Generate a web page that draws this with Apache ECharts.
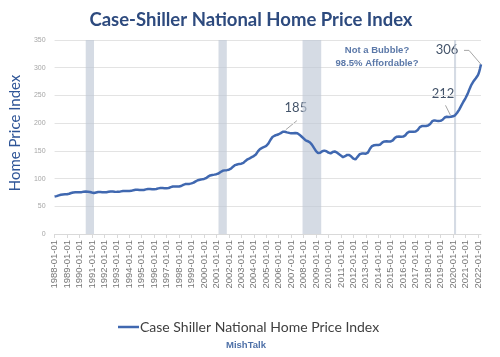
<!DOCTYPE html>
<html>
<head>
<meta charset="utf-8">
<script src="https://cdn.jsdelivr.net/npm/echarts@6/dist/echarts.min.js"></script>
<style>
html,body{margin:0;padding:0;background:#fff;}
#chart{width:500px;height:357px;}
</style>
</head>
<body>
<div id="chart"></div>
<script>
// Monthly Case-Shiller National Home Price Index, 1988-01 .. 2022-04
const hpi = [
  /*1988*/ 67.5, 67.8, 68.3, 68.9, 69.6, 70.2, 70.7, 71.1, 71.4, 71.6, 71.7, 71.8,
  /*1989*/ 71.9, 72.1, 72.6, 73.3, 74.0, 74.6, 75.0, 75.2, 75.3, 75.3, 75.2, 75.2,
  /*1990*/ 75.2, 75.2, 75.5, 75.9, 76.3, 76.6, 76.7, 76.6, 76.4, 76.1, 75.8, 75.6,
  /*1991*/ 74.8, 74.2, 73.9, 74.3, 74.9, 75.4, 75.7, 75.8, 75.7, 75.6, 75.5, 75.4,
  /*1992*/ 75.3, 75.2, 75.3, 75.7, 76.1, 76.5, 76.7, 76.7, 76.6, 76.4, 76.2, 76.1,
  /*1993*/ 76.0, 75.9, 76.0, 76.4, 76.9, 77.4, 77.7, 77.8, 77.8, 77.7, 77.6, 77.6,
  /*1994*/ 77.6, 77.6, 77.9, 78.5, 79.1, 79.6, 79.9, 80.0, 79.9, 79.7, 79.5, 79.4,
  /*1995*/ 79.3, 79.2, 79.4, 79.9, 80.5, 81.0, 81.3, 81.4, 81.3, 81.1, 80.9, 80.8,
  /*1996*/ 80.8, 80.8, 81.1, 81.7, 82.3, 82.8, 83.0, 83.0, 82.9, 82.7, 82.6, 82.6,
  /*1997*/ 82.6, 82.6, 83.0, 83.7, 84.5, 85.2, 85.6, 85.8, 85.8, 85.7, 85.6, 85.7,
  /*1998*/ 85.8, 86.0, 86.6, 87.6, 88.6, 89.4, 90.0, 90.3, 90.4, 90.4, 90.4, 90.6,
  /*1999*/ 91.3, 91.7, 92.6, 93.8, 95.0, 96.1, 97.0, 97.6, 98.0, 98.3, 98.6, 99.0,
  /*2000*/ 99.3, 99.8, 100.8, 102.2, 103.6, 104.8, 105.7, 106.2, 106.5, 106.8, 107.1, 107.5,
  /*2001*/ 107.9, 108.3, 109.2, 110.5, 111.9, 113.1, 114.0, 114.5, 114.8, 115.0, 115.2, 115.6,
  /*2002*/ 116.0, 116.6, 117.8, 119.6, 121.5, 123.1, 124.3, 125.0, 125.5, 126.0, 126.5, 127.1,
  /*2003*/ 126.8, 127.3, 128.4, 130.0, 131.8, 133.4, 134.7, 135.7, 136.6, 137.6, 138.6, 139.7,
  /*2004*/ 140.6, 141.6, 143.5, 146.2, 149.0, 151.5, 153.3, 154.5, 155.3, 156.1, 157.0, 158.1,
  /*2005*/ 159.1, 160.5, 162.9, 166.2, 169.6, 172.6, 174.9, 176.3, 177.2, 178.0, 178.7, 179.4,
  /*2006*/ 180.0, 180.7, 182.0, 183.5, 184.4, 184.6, 184.5, 184.0, 183.4, 182.9, 182.5, 182.1,
  /*2007*/ 181.6, 181.4, 181.6, 182.0, 182.3, 182.2, 181.7, 180.6, 179.2, 177.6, 175.9, 174.3,
  /*2008*/ 172.4, 170.3, 168.8, 168.0, 167.4, 166.6, 165.5, 163.7, 161.3, 158.4, 155.3, 152.4,
  /*2009*/ 149.6, 147.3, 146.0, 145.9, 146.7, 148.0, 149.4, 150.3, 150.5, 150.2, 149.4, 148.4,
  /*2010*/ 146.8, 145.5, 145.5, 146.6, 147.8, 148.6, 148.8, 148.3, 147.2, 145.8, 144.3, 142.9,
  /*2011*/ 141.4, 139.6, 138.6, 139.0, 140.3, 141.8, 142.7, 143.0, 142.5, 141.3, 139.8, 138.4,
  /*2012*/ 136.0, 134.3, 134.5, 136.5, 139.2, 141.9, 143.8, 144.8, 145.1, 145.2, 145.1, 145.2,
  /*2013*/ 145.0, 145.2, 146.9, 150.3, 153.8, 156.7, 158.6, 159.6, 160.1, 160.4, 160.5, 160.6,
  /*2014*/ 160.4, 160.5, 161.5, 163.4, 165.2, 166.4, 167.1, 167.3, 167.3, 167.2, 167.0, 167.0,
  /*2015*/ 167.0, 167.4, 169.0, 171.4, 173.5, 174.8, 175.5, 175.7, 175.7, 175.7, 175.6, 175.7,
  /*2016*/ 175.8, 176.3, 178.0, 180.5, 182.6, 183.9, 184.5, 184.6, 184.5, 184.5, 184.5, 184.7,
  /*2017*/ 185.0, 185.7, 187.7, 190.5, 192.8, 194.2, 194.8, 194.9, 194.8, 194.8, 194.9, 195.2,
  /*2018*/ 195.6, 196.5, 198.6, 201.3, 203.5, 204.7, 205.0, 204.8, 204.4, 204.1, 203.9, 204.0,
  /*2019*/ 204.1, 204.5, 206.1, 208.3, 210.2, 211.3, 211.6, 211.4, 211.2, 211.2, 211.4, 211.9,
  /*2020*/ 212.3, 212.8, 214.2, 216.3, 218.7, 221.4, 224.5, 228.0, 231.6, 235.2, 238.6, 241.8,
  /*2021*/ 244.8, 248.2, 252.3, 257.0, 261.8, 266.2, 270.1, 273.4, 276.2, 278.7, 281.1, 283.6,
  /*2022*/ 286.5, 291.0, 298.0, 306.0
];

// Monthly categories 1988-01-01 .. 2022-04-01
const firstYear = 1988;
const categories = hpi.map((v, i) => {
  const y = firstYear + Math.floor(i / 12);
  const m = (i % 12) + 1;
  return y + '-' + (m < 10 ? '0' + m : m) + '-01';
});

// Recession shading
const recessionStarts = ['1990-07-01', '2001-03-01', '2007-12-01', '2020-02-01'];
const recessionEnds   = ['1991-03-01', '2001-11-01', '2009-06-01', '2020-04-01'];

// Annotated points
const annotatedDates = ['2006-06-01', '2020-01-01', '2022-04-01'];

const yTicks = { min: 0, max: 350, interval: 50 };

const chart = echarts.init(document.getElementById('chart'), null, { renderer: 'canvas' });

const option = {
  animation: false,
  backgroundColor: '#ffffff',
  title: {
    text: 'Case-Shiller National Home Price Index',
    left: 246, top: 6, textAlign: 'center',
    textStyle: { fontFamily: 'Lato', fontWeight: 'bold', fontSize: 18.5, color: '#2D4A7E' }
  },
  grid: { left: 48, right: 19, top: 40, bottom: 123, containLabel: false },
  legend: {
    data: ['Case Shiller National Home Price Index'],
    left: 113, top: 315,
    icon: 'rect', itemWidth: 21, itemHeight: 2.5, itemGap: 4,
    textStyle: { fontFamily: 'Lato', fontSize: 14, color: '#404040', padding: [0,0,0,-4] }
  },
  xAxis: {
    type: 'category',
    data: categories,
    boundaryGap: false,
    axisLine: { lineStyle: { color: '#D9D9D9', width: 1 } },
    axisTick: { show: true, interval: 11, length: 4, lineStyle: { color: '#D9D9D9' } },
    axisLabel: {
      interval: 11, rotate: 90, margin: 6,
      fontFamily: 'Liberation Sans', fontSize: 9.5, color: '#767676'
    },
    splitLine: { show: false }
  },
  yAxis: {
    type: 'value',
    min: yTicks.min, max: yTicks.max, interval: yTicks.interval,
    name: 'Home Price Index',
    nameLocation: 'middle', nameGap: 29, nameRotate: 90,
    nameTextStyle: { fontFamily: 'Lato', fontSize: 15, color: '#2F5597', padding: [0, 0, 0, 8] },
    axisLine: { show: false },
    axisTick: { show: false },
    axisLabel: { fontFamily: 'Liberation Sans', fontSize: 7, color: '#A6A6A6', margin: 9 },
    splitLine: { lineStyle: { color: '#E3E3E3', width: 1 } }
  },
  series: [{
    name: 'Case Shiller National Home Price Index',
    type: 'line',
    data: hpi,
    symbol: 'none',
    smooth: false,
    lineStyle: { color: '#4068B0', width: 2.5 },
    itemStyle: { color: '#4068B0' },
    z: 5,
    markArea: {
      silent: true,
      itemStyle: { color: 'rgba(190,200,214,0.65)' },
      data: recessionStarts.map((s, i) => [{ xAxis: s }, { xAxis: recessionEnds[i] }])
    }
  }],
  graphic: [
    {
      type: 'text', x: 246, y: 345,
      style: { text: 'MishTalk', font: 'bold 9.5px "Liberation Sans"', fill: '#4F71A8', align: 'center', verticalAlign: 'middle' }
    },
    {
      type: 'text', x: 377, y: 50,
      style: { text: 'Not a Bubble?', font: 'bold 9.5px "Liberation Sans"', fill: '#5B78A8', align: 'center', verticalAlign: 'middle' }
    },
    {
      type: 'text', x: 377, y: 63,
      style: { text: '98.5% Affordable?', font: 'bold 9.5px "Liberation Sans"', fill: '#5B78A8', align: 'center', verticalAlign: 'middle' }
    }
  ]
};

chart.setOption(option);

// Annotation labels with leader lines, positioned from the data via the chart's scales
const annotationStyle = [
  { dx: 12, dy: -24, line: [[2, -2], [13, -11]] },
  { dx: -10, dy: -23, line: [[-2.5, -1], [-7.5, -11]] },
  { dx: -34, dy: -15, line: [[0, 0], [-12, -14], [-17, -14]] }
];
const extra = [];
annotatedDates.forEach((d, k) => {
  const idx = categories.indexOf(d);
  const val = hpi[idx];
  const p = chart.convertToPixel({ seriesIndex: 0 }, [idx, val]);
  const a = annotationStyle[k];
  extra.push({
    type: 'polyline', silent: true,
    shape: { points: a.line.map(q => [p[0] + q[0], p[1] + q[1]]) },
    style: { stroke: '#A6A6A6', lineWidth: 1, fill: null }
  });
  extra.push({
    type: 'text', x: p[0] + a.dx, y: p[1] + a.dy,
    style: { text: String(Math.round(val)), font: '13px Lato', fill: '#44546A', align: 'center', verticalAlign: 'middle' }
  });
});
chart.setOption({ graphic: option.graphic.concat(extra) });
</script>
</body>
</html>
